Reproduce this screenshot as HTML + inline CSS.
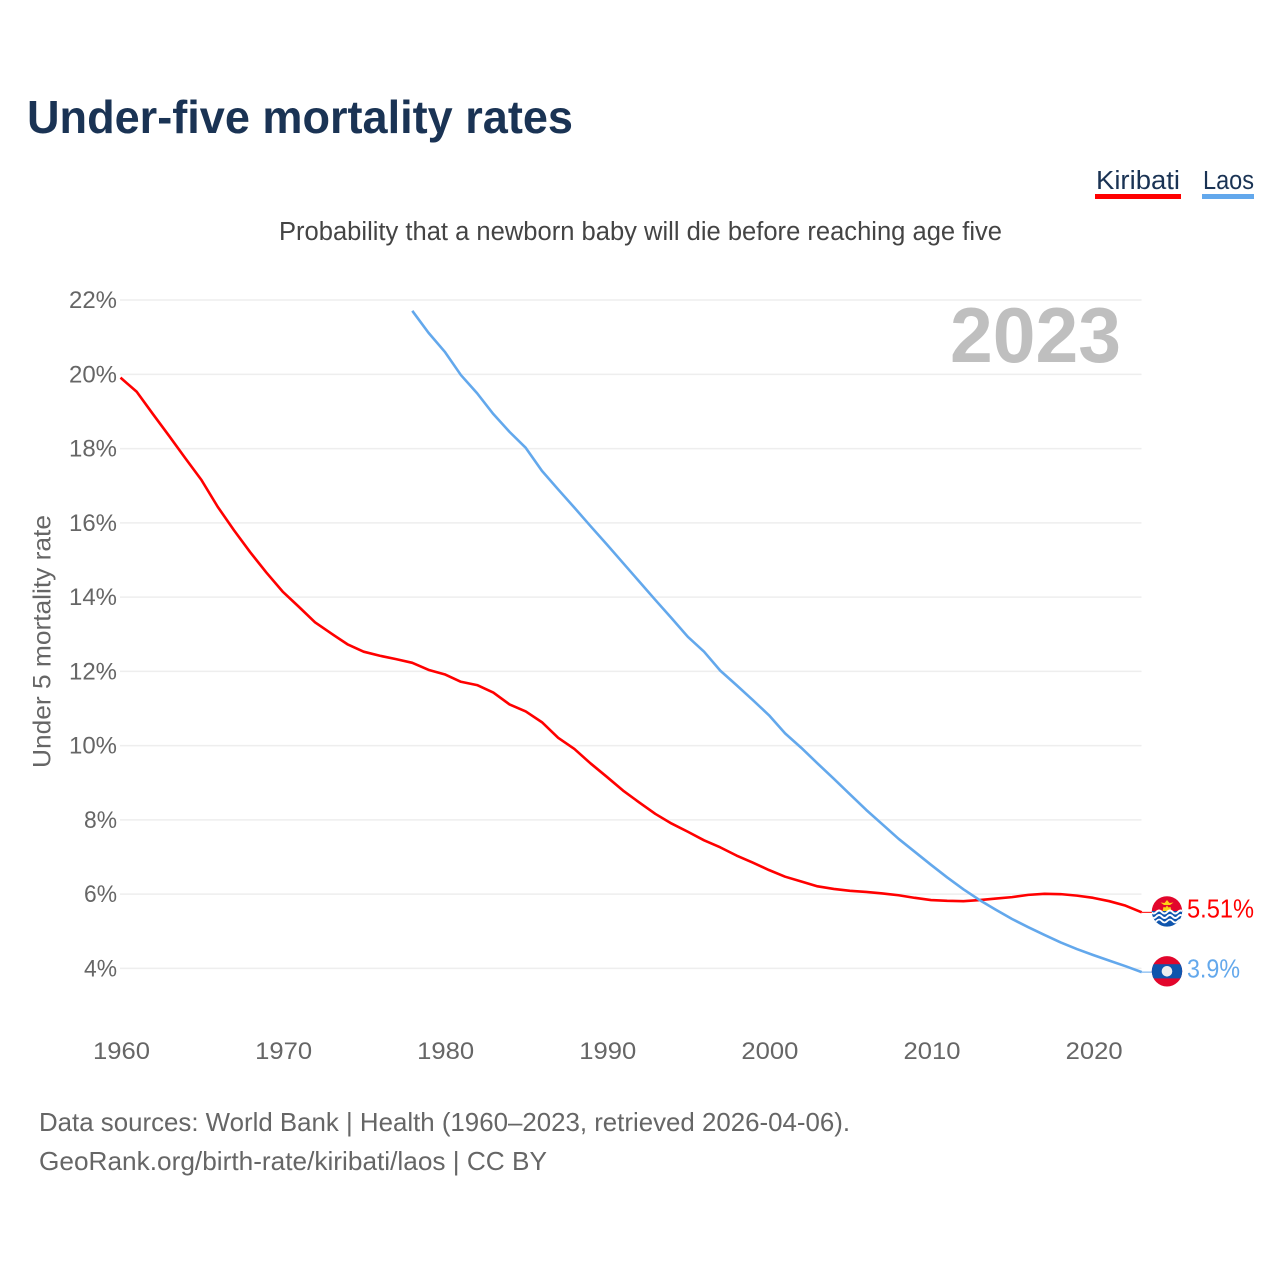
<!DOCTYPE html>
<html lang="en">
<head>
<meta charset="utf-8">
<title>Under-five mortality rates</title>
<style>
html,body{margin:0;padding:0;background:#fff;}
svg{display:block;}
text{font-family:"Liberation Sans",sans-serif;}
</style>
</head>
<body>
<svg id="chart" xmlns="http://www.w3.org/2000/svg" width="1280" height="1280" viewBox="0 0 1280 1280">
  <defs>
    <clipPath id="flag-clip-k"><circle cx="1167" cy="911.4" r="15.2"/></clipPath>
    <clipPath id="flag-clip-l"><circle cx="1167" cy="971.3" r="15.2"/></clipPath>
  </defs>
  <rect width="1280" height="1280" fill="#fff"/>
  <text x="27" y="133" font-size="46" font-weight="700" fill="#1a3354" textLength="546" lengthAdjust="spacingAndGlyphs">Under-five mortality rates</text>
  <g>
    <text x="1096" y="189" font-size="25.5" fill="#1a3354" textLength="84" lengthAdjust="spacingAndGlyphs">Kiribati</text>
    <rect x="1095" y="194" width="86" height="5" fill="#ff0000"/>
  </g>
  <g>
    <text x="1203" y="189" font-size="25.5" fill="#1a3354" textLength="51" lengthAdjust="spacingAndGlyphs">Laos</text>
    <rect x="1202" y="194" width="52" height="5" fill="#63a8ec"/>
  </g>
  <text x="279" y="240" font-size="25.5" fill="#444" textLength="723" lengthAdjust="spacingAndGlyphs">Probability that a newborn baby will die before reaching age five</text>
  <g id="grid"></g>
  <g id="yticks"></g>
  <g id="xticks"></g>
  <text transform="translate(50.5,768) rotate(-90)" font-size="25" fill="#666" textLength="253" lengthAdjust="spacingAndGlyphs">Under 5 mortality rate</text>
  <text x="950" y="362" font-size="78" font-weight="700" fill="#bfbfbf" textLength="171" lengthAdjust="spacingAndGlyphs">2023</text>
  <g id="series"></g>
  <g clip-path="url(#flag-clip-k)">
    <rect x="1151" y="896" width="32" height="16" fill="#e2062c"/>
    <path d="M1160.5 902.5 L1164.5 903 L1167 900 L1169.5 903 L1173.5 902.5 L1170 905 L1164 905 Z" fill="#fcd116"/>
    <path d="M1162.5 911 L1163.5 907 L1165.5 907.5 L1167 905.5 L1168.5 907.5 L1170.5 907 L1171.5 911 Z" fill="#fcd116"/>
    <rect x="1151" y="911" width="32" height="17" fill="#0f55ad"/>
    <path d="M1151 912 q2.7 3 5.4 0 t5.4 0 t5.4 0 t5.4 0 t5.4 0 t5.4 0" fill="none" stroke="#fff" stroke-width="2"/>
    <path d="M1151 916.5 q2.7 3 5.4 0 t5.4 0 t5.4 0 t5.4 0 t5.4 0 t5.4 0" fill="none" stroke="#fff" stroke-width="2"/>
    <path d="M1151 921 q2.7 3 5.4 0 t5.4 0 t5.4 0 t5.4 0 t5.4 0 t5.4 0" fill="none" stroke="#fff" stroke-width="1.8"/>
  </g>
  <g clip-path="url(#flag-clip-l)">
    <rect x="1151" y="956" width="32" height="31" fill="#e2062c"/>
    <rect x="1151" y="964.2" width="32" height="14.2" fill="#0f55ad"/>
    <circle cx="1167" cy="971.3" r="5.3" fill="#eee"/>
  </g>
  <text id="label-k" x="1187" y="917.5" font-size="25.5" fill="#ff0000" textLength="67" lengthAdjust="spacingAndGlyphs"></text>
  <text id="label-l" x="1187" y="977.5" font-size="25.5" fill="#63a8ec" textLength="53" lengthAdjust="spacingAndGlyphs"></text>
  <text x="39" y="1131" font-size="26" fill="#666" textLength="811" lengthAdjust="spacingAndGlyphs">Data sources: World Bank | Health (1960–2023, retrieved 2026-04-06).</text>
  <text x="39" y="1170" font-size="26" fill="#666" textLength="508" lengthAdjust="spacingAndGlyphs">GeoRank.org/birth-rate/kiribati/laos | CC BY</text>
</svg>
<script>
const yTickValues = [22, 20, 18, 16, 14, 12, 10, 8, 6, 4];
const xTickYears = [1960, 1970, 1980, 1990, 2000, 2010, 2020];
const kiribatiStartYear = 1960;
const kiribatiValues = [19.91,19.53,18.93,18.34,17.74,17.15,16.43,15.80,15.21,14.66,14.15,13.74,13.32,13.02,12.73,12.53,12.42,12.33,12.23,12.04,11.92,11.72,11.63,11.43,11.11,10.92,10.63,10.21,9.91,9.52,9.16,8.79,8.47,8.16,7.90,7.68,7.45,7.26,7.04,6.85,6.65,6.47,6.34,6.21,6.14,6.09,6.06,6.02,5.97,5.90,5.84,5.82,5.81,5.84,5.88,5.92,5.98,6.01,6.00,5.96,5.90,5.81,5.69,5.51];
const laosStartYear = 1978;
const laosValues = [21.71,21.12,20.61,19.98,19.49,18.93,18.45,18.02,17.40,16.90,16.41,15.91,15.42,14.92,14.42,13.92,13.43,12.93,12.53,12.02,11.63,11.23,10.82,10.33,9.94,9.52,9.11,8.69,8.27,7.88,7.49,7.14,6.79,6.45,6.13,5.84,5.58,5.33,5.11,4.90,4.70,4.52,4.36,4.21,4.06,3.90];

const NS = 'http://www.w3.org/2000/svg';
function xScale(year) { return 120.5 + (year - 1960) * 16.21; }
function yScale(v) { return 968.4 - (v - 4) * 37.13; }

const grid = document.getElementById('grid');
const yticks = document.getElementById('yticks');
yTickValues.forEach(function (v) {
  const line = document.createElementNS(NS, 'line');
  
  
  line.setAttribute('x1', 120);
  line.setAttribute('x2', 1141.5);
  line.setAttribute('y1', yScale(v));
  line.setAttribute('y2', yScale(v));
  line.setAttribute('stroke', '#eeeeee');
  line.setAttribute('stroke-width', '1.5');
  grid.appendChild(line);
  const t = document.createElementNS(NS, 'text');
  
  
  t.setAttribute('x', 117);
  t.setAttribute('y', yScale(v) + 8);
  t.setAttribute('text-anchor', 'end');
  t.setAttribute('font-size', '24.5');
  t.setAttribute('fill', '#666');
  t.setAttribute('textLength', v >= 10 ? 48 : 33);
  t.setAttribute('lengthAdjust', 'spacingAndGlyphs');
  t.textContent = v + '%';
  yticks.appendChild(t);
});

const xticks = document.getElementById('xticks');
xTickYears.forEach(function (yr) {
  const t = document.createElementNS(NS, 'text');
  
  
  t.setAttribute('x', xScale(yr) + 1);
  t.setAttribute('y', 1059);
  t.setAttribute('text-anchor', 'middle');
  t.setAttribute('font-size', '24.5');
  t.setAttribute('fill', '#666');
  t.setAttribute('textLength', 57);
  t.setAttribute('lengthAdjust', 'spacingAndGlyphs');
  t.textContent = yr;
  xticks.appendChild(t);
});

const series = document.getElementById('series');
function drawSeries(values, startYear, color, name) {
  const pts = values.map(function (v, i) {
    return xScale(startYear + i).toFixed(2) + ',' + yScale(v).toFixed(2);
  });
  const line = document.createElementNS(NS, 'polyline');
  
  
  line.setAttribute('points', pts.join(' '));
  line.setAttribute('fill', 'none');
  line.setAttribute('stroke', color);
  line.setAttribute('stroke-width', '2.6');
  line.setAttribute('stroke-linejoin', 'round');
  series.appendChild(line);
  const last = values[values.length - 1];
  const lastYear = startYear + values.length - 1;
  const tail = document.createElementNS(NS, 'line');
  
  
  tail.setAttribute('x1', xScale(lastYear));
  tail.setAttribute('x2', xScale(lastYear) + 11);
  tail.setAttribute('y1', yScale(last));
  tail.setAttribute('y2', yScale(last));
  tail.setAttribute('stroke', color);
  tail.setAttribute('stroke-width', '1');
  series.appendChild(tail);
}
drawSeries(kiribatiValues, kiribatiStartYear, '#ff0000', 'line-kiribati');
drawSeries(laosValues, laosStartYear, '#63a8ec', 'line-laos');

function fmt(v) { return String(Math.round(v * 100) / 100) + '%'; }
document.getElementById('label-k').textContent = fmt(kiribatiValues[kiribatiValues.length - 1]);
document.getElementById('label-l').textContent = fmt(laosValues[laosValues.length - 1]);
</script>
</body>
</html>
